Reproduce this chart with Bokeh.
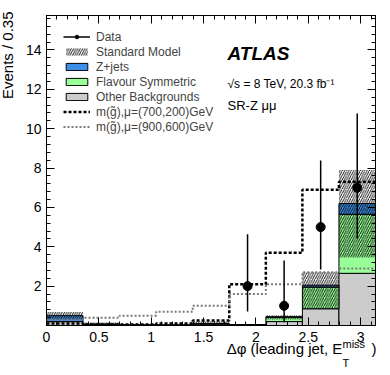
import numpy as np
from bokeh.plotting import figure
from bokeh.models import (Range1d, SingleIntervalTicker, LinearAxis, Label,
                          Legend, LegendItem, ColumnDataSource)
from bokeh.embed import file_html
from bokeh.resources import INLINE

# ---------------- data ----------------
n_bins = 9
x_max = np.pi
y_max = 15.75

other_bkg = [0.20, 0.02, 0.01, 0.01, 0.03, 0.02, 0.20, 0.85, 2.65]
flavour_sym = [0.00, 0.03, 0.01, 0.01, 0.05, 0.02, 0.22, 1.10, 3.00]
z_jets = [0.30, 0.02, 0.00, 0.00, 0.02, 0.00, 0.02, 0.10, 0.55]
sm_band_lo = [0.30, 0.00, 0.00, 0.00, 0.02, 0.00, 0.30, 0.85, 3.45]
sm_band_hi = [0.68, 0.15, 0.06, 0.05, 0.20, 0.08, 0.52, 2.70, 7.90]
sig_700_200 = [0.10, 0.05, 0.05, 0.10, 0.25, 2.10, 3.70, 6.90, 7.30]
sig_900_600 = [0.30, 0.40, 0.50, 0.70, 1.00, 1.60, 2.10, 2.70, 2.90]
data_counts = [0, 0, 0, 0, 0, 2, 1, 5, 7]
data_err_lo = [0, 0, 0, 0, 0, 1.29, 0.83, 2.16, 2.58]
data_err_hi = [0, 0, 0, 0, 0, 2.64, 2.30, 3.38, 3.77]

x_ticks_major = 0.5
y_ticks_major = 2

# ---------------- derived ----------------
edges = np.linspace(0, x_max, n_bins + 1)
left = edges[:-1]
right = edges[1:]
centers = 0.5 * (left + right)
b0 = np.zeros(n_bins)
b1 = b0 + np.array(other_bkg)
b2 = b1 + np.array(flavour_sym)
b3 = b2 + np.array(z_jets)

FONT = "Liberation Sans"
W, H = 389, 374

p = figure(width=W, height=H, x_range=Range1d(0, x_max), y_range=Range1d(0, y_max),
           output_backend="svg", toolbar_location=None,
           min_border_left=46, min_border_right=W - 375, min_border_top=15,
           min_border_bottom=H - 325)
p.grid.visible = False
p.outline_line_color = "black"
p.outline_line_width = 1
p.background_fill_color = "white"

r_other = p.quad(left=left, right=right, bottom=b0, top=b1, fill_color="#cccccc",
                 line_color="black", line_width=1)
r_fs = p.quad(left=left, right=right, bottom=b1, top=b2, fill_color="#99ff99",
              line_color="black", line_width=1)
r_z = p.quad(left=left, right=right, bottom=b2, top=b3, fill_color="#3d8ee8",
             line_color="black", line_width=1)
r_band = p.quad(left=left, right=right, bottom=sm_band_lo, top=sm_band_hi,
                fill_alpha=0, line_alpha=0, hatch_pattern="/", hatch_color="black",
                hatch_scale=4.5, hatch_weight=0.9)


def step(vals):
    xs = np.repeat(edges, 2)[1:-1]
    ys = np.repeat(np.array(vals, dtype=float), 2)
    return xs, ys

xs1, ys1 = step(sig_700_200)
r_s1 = p.line(xs1, ys1, line_color="black", line_width=2.5, line_dash="3 2")
xs2, ys2 = step(sig_900_600)
r_s2 = p.line(xs2, ys2, line_color="#7a7a7a", line_width=2, line_dash="2 2")

mask = np.array(data_counts) > 0
dsrc = ColumnDataSource(dict(
    x=centers[mask], y=np.array(data_counts, dtype=float)[mask],
    lo=(np.array(data_counts) - np.array(data_err_lo))[mask],
    hi=(np.array(data_counts) + np.array(data_err_hi))[mask]))
r_err = p.segment(x0="x", y0="lo", x1="x", y1="hi", source=dsrc, line_color="black", line_width=1.5)
r_dat = p.scatter(x="x", y="y", source=dsrc, size=9, marker="circle", fill_color="black",
                  line_color="black")

# ---------------- axes ----------------
def style_axis(ax, labels=True):
    ax.major_tick_in = 8
    ax.major_tick_out = 0
    ax.minor_tick_in = 4
    ax.minor_tick_out = 0
    ax.axis_line_color = "black"
    ax.major_tick_line_color = "black"
    ax.minor_tick_line_color = "black"
    if labels:
        ax.major_label_text_font = FONT
        ax.major_label_text_font_size = "14px"
        ax.major_label_text_color = "black"
    else:
        ax.major_label_text_color = None
        ax.major_label_text_font_size = "0px"
        ax.major_label_standoff = 0

xt = SingleIntervalTicker(interval=x_ticks_major, num_minor_ticks=5)
yt = SingleIntervalTicker(interval=y_ticks_major, num_minor_ticks=5)
p.xaxis.ticker = xt
p.yaxis.ticker = yt
style_axis(p.xaxis[0])
style_axis(p.yaxis[0])
p.xaxis.major_label_standoff = 6
p.yaxis.major_label_standoff = 5
p.yaxis.major_label_overrides = {0: ""}
p.xaxis.major_label_overrides = {0: "0", 1: "1", 2: "2", 3: "3"}

ax_top = LinearAxis(ticker=SingleIntervalTicker(interval=x_ticks_major, num_minor_ticks=5))
style_axis(ax_top, labels=False)
p.add_layout(ax_top, "above")
ax_right = LinearAxis(ticker=SingleIntervalTicker(interval=y_ticks_major, num_minor_ticks=5))
style_axis(ax_right, labels=False)
p.add_layout(ax_right, "right")

# ---------------- legend ----------------
items = [
    LegendItem(label="Data", renderers=[r_err, r_dat]),
    LegendItem(label="Standard Model", renderers=[r_band]),
    LegendItem(label="Z+jets", renderers=[r_z]),
    LegendItem(label="Flavour Symmetric", renderers=[r_fs]),
    LegendItem(label="Other Backgrounds", renderers=[r_other]),
    LegendItem(label="m(g\u0303),\u03bc=(700,200)GeV", renderers=[r_s1]),
    LegendItem(label="m(g\u0303),\u03bc=(900,600)GeV", renderers=[r_s2]),
]
leg = Legend(items=items, location=(17, 191), padding=0, margin=0, spacing=0,
             glyph_width=27, glyph_height=9, label_height=15, label_standoff=6,
             label_text_font=FONT, label_text_font_size="12px",
             border_line_alpha=0, background_fill_alpha=0)
p.add_layout(leg)

# ---------------- texts ----------------
def lab(x, y, t, size, style="normal", align="left", angle=0, place=None):
    l = Label(x=x, y=y, x_units="screen", y_units="screen", text=t,
              text_font=FONT, text_font_size=size, text_font_style=style,
              text_align=align, text_baseline="alphabetic", angle=angle,
              text_color="black")
    if place is None:
        p.add_layout(l)
    else:
        p.add_layout(l, place)

lab(181, 272, "ATLAS", "19px", "bold italic")
lab(181, 242, "\u221as = 8 TeV, 20.3 fb\u207b\u00b9", "12px")
lab(181, 220, "SR-Z \u03bc\u03bc", "13px")

# axis titles: one label per side panel (panel labels are not clipped to the frame)
nb = "\u00a0" * 7
lab(330, 13, "\u0394\u03c6 (leading jet, E" + nb + ")", "15px", align="right", place="below")
lab(296, -328, "miss", "11px", place="above")
lab(-33, -37, "T", "11px", place="right")
lab(2, 314, "Events / 0.35", "15px", align="right", angle=np.pi / 2, place="left")

open("out.html", "w").write(file_html(p, INLINE))
